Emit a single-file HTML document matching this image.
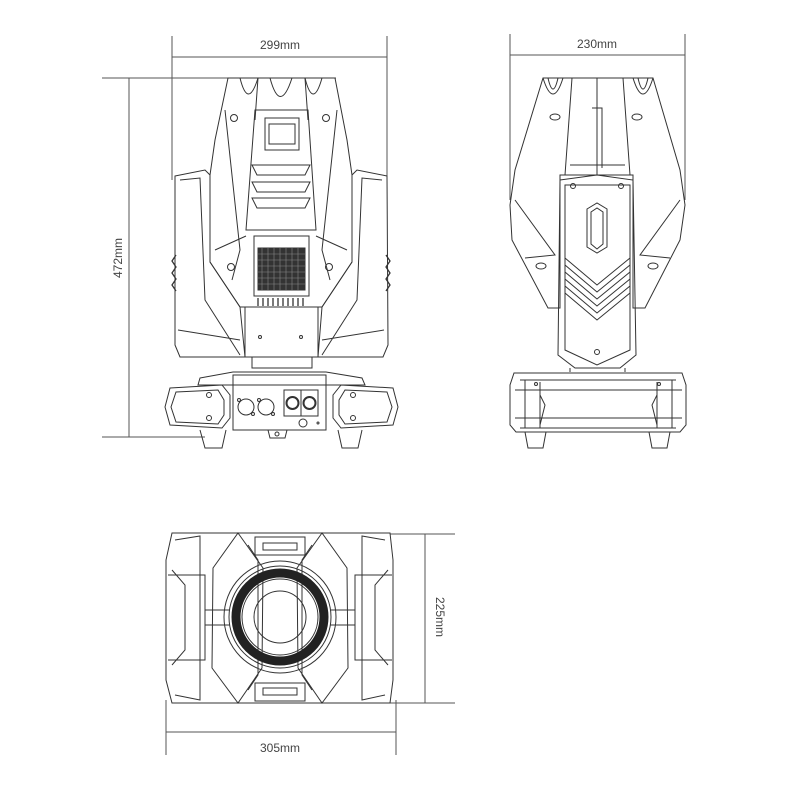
<!DOCTYPE html>
<html><head><meta charset="utf-8"><style>
html,body{margin:0;padding:0;background:#fff;width:800px;height:800px;overflow:hidden}
svg{display:block}
text{font-family:"Liberation Sans",sans-serif;font-size:12px;fill:#444}
</style></head><body>
<svg width="800" height="800" viewBox="0 0 800 800" xmlns="http://www.w3.org/2000/svg">
<g fill="none" stroke="#555" stroke-width="1">
<!-- front dims -->
<line x1="172" y1="36" x2="172" y2="180"/>
<line x1="387" y1="36" x2="387" y2="180"/>
<line x1="172" y1="57" x2="387" y2="57"/>
<line x1="102" y1="78" x2="336" y2="78"/>
<line x1="102" y1="437" x2="205" y2="437"/>
<line x1="129" y1="78" x2="129" y2="437"/>
<!-- side dims -->
<line x1="510" y1="34" x2="510" y2="200"/>
<line x1="685" y1="34" x2="685" y2="200"/>
<line x1="510" y1="55" x2="685" y2="55"/>
<!-- bottom dims -->
<line x1="166" y1="700" x2="166" y2="755"/>
<line x1="396" y1="700" x2="396" y2="755"/>
<line x1="166" y1="732" x2="396" y2="732"/>
<line x1="390" y1="534" x2="455" y2="534"/>
<line x1="390" y1="703" x2="455" y2="703"/>
<line x1="425" y1="534" x2="425" y2="703"/>
</g>
<text x="280" y="49" text-anchor="middle">299mm</text>
<text x="597" y="48" text-anchor="middle">230mm</text>
<text x="280" y="752" text-anchor="middle">305mm</text>
<text transform="translate(122,258) rotate(-90)" text-anchor="middle">472mm</text>
<text transform="translate(436,617) rotate(90)" text-anchor="middle">225mm</text>

<!-- FRONT VIEW -->
<g fill="none" stroke="#333" stroke-width="1">
<!-- head -->
<path d="M228,78 L335,78 L347,140 L352,175 L352,262 L322,307 L240,307 L210,262 L210,175 L215,140 Z"/>
<path d="M240,78 Q248,110 258,78 M270,78 Q280,115 292,78 M305,78 Q313,110 322,78"/>
<path d="M258,78 L255,120 M305,78 L308,120"/>
<path d="M255,110 L308,110 L316,230 L246,230 Z"/>
<rect x="265" y="118" width="34" height="32"/>
<rect x="269" y="124" width="26" height="20"/>
<path d="M252,165 L310,165 L305,175 L257,175 Z M252,182 L310,182 L305,192 L257,192 Z M252,198 L310,198 L305,208 L257,208 Z"/>
<path d="M225,110 L240,250 L232,280 M337,110 L322,250 L330,280"/>
<path d="M215,250 L246,236 M347,250 L316,236"/>
<rect x="254" y="236" width="55" height="60"/>
<rect x="258" y="248" width="47" height="42" fill="#333"/>
<path d="M262,248 v42 M268,248 v42 M274,248 v42 M280,248 v42 M286,248 v42 M292,248 v42 M298,248 v42 M258,254 h47 M258,260 h47 M258,266 h47 M258,272 h47 M258,278 h47 M258,284 h47" stroke="#888" stroke-width="0.6"/>
<path d="M258,298 v8 M263,298 v8 M268,298 v8 M273,298 v8 M278,298 v8 M283,298 v8 M288,298 v8 M293,298 v8 M298,298 v8 M303,298 v8" stroke-width="1.3"/>
<circle cx="234" cy="118" r="3.5"/><circle cx="326" cy="118" r="3.5"/>
<circle cx="231" cy="267" r="3.5"/><circle cx="329" cy="267" r="3.5"/>
<rect x="245" y="307" width="73" height="50"/>
<circle cx="260" cy="337" r="1.5"/><circle cx="301" cy="337" r="1.5"/>
<rect x="252" y="357" width="60" height="11"/>
<!-- arms -->
<path d="M175,176 L205,170 L210,175 L210,262 L240,307 L245,357 L180,357 L175,345 Z"/>
<path d="M180,180 L200,178 L205,300 L240,355 M178,330 L240,340"/>
<path d="M387,176 L357,170 L352,175 L352,262 L322,307 L318,357 L383,357 L388,345 Z"/>
<path d="M382,180 L362,178 L357,300 L322,355 M384,330 L322,340"/>
<path d="M176,255 l-4,6 l4,6 l-4,6 l4,6 l-4,6 l4,6 M386,255 l4,6 l-4,6 l4,6 l-4,6 l4,6 l-4,6" stroke-width="1.3"/>
<!-- base -->
<path d="M200,378 L233,372 L326,372 L362,378 L365,385 L198,385 Z"/>
<rect x="233" y="375" width="93" height="55"/>
<path d="M170,388 L222,385 L230,395 L230,418 L222,428 L170,425 L165,407 Z"/>
<path d="M176,392 L218,390 L224,400 L224,415 L218,424 L176,422 L171,407 Z"/>
<path d="M393,388 L341,385 L333,395 L333,418 L341,428 L393,425 L398,407 Z"/>
<path d="M387,392 L345,390 L339,400 L339,415 L345,424 L387,422 L392,407 Z"/>
<circle cx="209" cy="395" r="2.5"/><circle cx="209" cy="418" r="2.5"/>
<circle cx="353" cy="395" r="2.5"/><circle cx="353" cy="418" r="2.5"/>
<circle cx="246" cy="407" r="8"/><circle cx="266" cy="407" r="8"/>
<circle cx="239" cy="400" r="1.5"/><circle cx="253" cy="414" r="1.5"/><circle cx="259" cy="400" r="1.5"/><circle cx="273" cy="414" r="1.5"/>
<rect x="284" y="390" width="17" height="26"/><rect x="301" y="390" width="17" height="26"/>
<circle cx="292.5" cy="403" r="6" stroke-width="2"/><circle cx="309.5" cy="403" r="6" stroke-width="2"/>
<circle cx="303" cy="423" r="4"/><circle cx="318" cy="423" r="1"/>
<path d="M200,430 L205,448 L222,448 L226,430 M338,430 L342,448 L358,448 L362,430 M268,430 L270,438 L285,438 L287,430"/>
<circle cx="277" cy="434" r="2"/>
</g>

<!-- SIDE VIEW -->
<g fill="none" stroke="#333" stroke-width="1">
<path d="M543,78 L653,78 L680,170 L685,205 L680,240 L645,308 L633,308 L633,175 L560,175 L560,308 L548,308 L512,240 L510,205 L515,170 Z"/>
<path d="M543,78 Q553,110 563,78 M633,78 Q643,110 653,78 M548,78 Q553,100 558,78 M638,78 Q643,100 648,78"/>
<path d="M572,78 L565,175 M623,78 L630,175 M597,78 L597,175 M592,108 h10 v60"/>
<path d="M515,200 L555,255 L525,258 M680,200 L640,255 L670,258 M570,165 L625,165"/>
<ellipse cx="555" cy="117" rx="5" ry="3"/><ellipse cx="637" cy="117" rx="5" ry="3"/>
<ellipse cx="541" cy="266" rx="5" ry="3"/><ellipse cx="653" cy="266" rx="5" ry="3"/>
<path d="M560,180 L597,175 L633,180 L636,355 L620,368 L575,368 L558,355 Z"/>
<path d="M565,185 L630,185 L630,350 L597,365 L565,350 Z"/>
<circle cx="573" cy="186" r="2.5"/><circle cx="621" cy="186" r="2.5"/><circle cx="597" cy="352" r="2.5"/>
<path d="M587,209 L597,203 L607,209 L607,247 L597,253 L587,247 Z M591,212 L597,208 L603,212 L603,244 L597,249 L591,244 Z"/>
<path d="M565,258 L597,285 L630,258 M565,265 L597,292 L630,265 M565,272 L597,299 L630,272 M565,279 L597,306 L630,279 M565,286 L597,313 L630,286 M565,293 L597,320 L630,293"/>
<path d="M570,368 L570,372 M625,368 L625,372"/>
<path d="M514,373 L682,373 L686,385 L686,425 L680,432 L516,432 L510,425 L510,385 Z"/>
<path d="M520,380 L676,380 M515,390 L682,390 M515,418 L682,418 M520,428 L676,428 M525,380 L525,428 M672,380 L672,428 M540,382 L540,428 M657,382 L657,428 M540,395 L545,405 L540,425 M657,395 L652,405 L657,425"/>
<circle cx="536" cy="384" r="1.5"/><circle cx="659" cy="384" r="1.5"/>
<path d="M525,432 L528,448 L543,448 L546,432 M649,432 L652,448 L667,448 L670,432"/>
</g>

<!-- BOTTOM VIEW -->
<g fill="none" stroke="#333" stroke-width="1">
<path d="M172,533 L390,533 L393,560 L393,680 L390,703 L172,703 L166,680 L166,560 Z"/>
<path d="M175,540 L200,536 L200,700 L175,695 M385,540 L362,536 L362,700 L385,695"/>
<path d="M168,575 L205,575 L205,660 L168,660 M392,575 L355,575 L355,660 L392,660"/>
<path d="M172,570 L185,585 L185,650 L172,665 M388,570 L375,585 L375,650 L388,665"/>
<path d="M238,533 L263,568 L262,668 L238,703 L212,668 L213,568 Z"/>
<path d="M322,533 L297,568 L298,668 L322,703 L348,668 L347,568 Z"/>
<path d="M248,545 L258,560 L258,675 L248,690"/>
<path d="M312,545 L302,560 L302,675 L312,690"/>
<rect x="255" y="537" width="50" height="18"/><rect x="263" y="543" width="34" height="7"/>
<rect x="255" y="683" width="50" height="18"/><rect x="263" y="688" width="34" height="7"/>
<path d="M205,610 L230,610 M205,625 L230,625 M330,610 L355,610 M330,625 L355,625"/>
<circle cx="280" cy="617" r="56"/>
<circle cx="280" cy="617" r="51"/>
<circle cx="280" cy="617" r="44" stroke="#222" stroke-width="9"/>
<circle cx="280" cy="617" r="38"/>
<circle cx="280" cy="617" r="26"/>
</g>
</svg>
</body></html>
